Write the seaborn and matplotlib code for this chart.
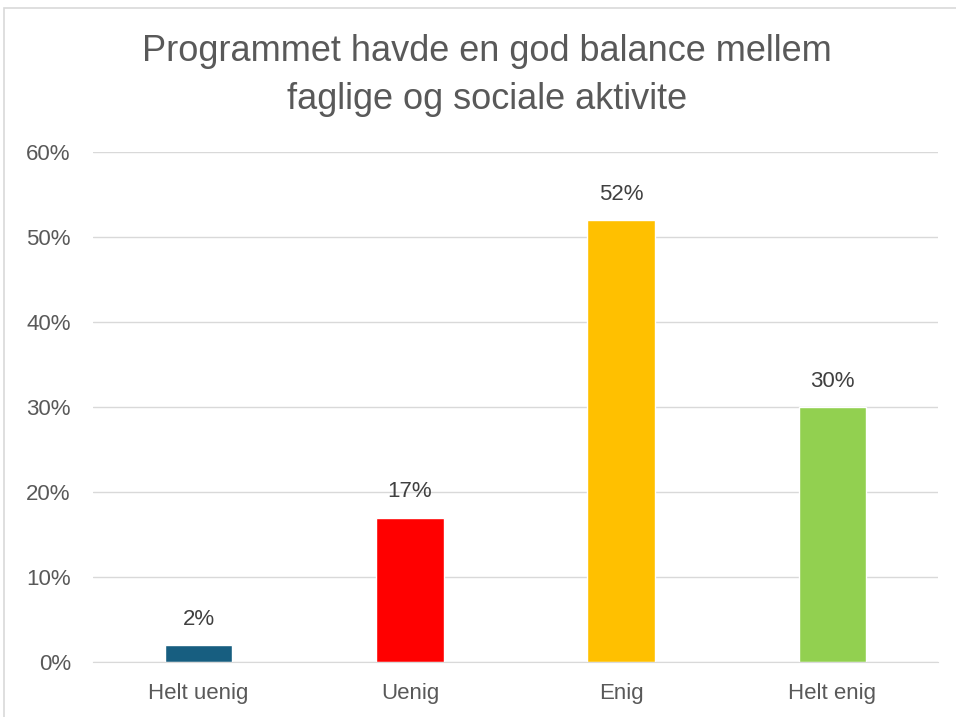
import matplotlib
matplotlib.use("Agg")
from matplotlib import pyplot as plt
from matplotlib.patches import Rectangle
import pandas as pd
import seaborn as sns

categories = ["Helt uenig", "Uenig", "Enig", "Helt enig"]
values = [2, 17, 52, 30]
colors = ["#175E80", "#FF0000", "#FFC000", "#92D050"]
yticks = [0, 10, 20, 30, 40, 50, 60]
title = "Programmet havde en god balance mellem\nfaglige og sociale aktivite"

sns.set_style("white")
plt.rcParams["font.family"] = ["Liberation Sans", "DejaVu Sans"]

df = pd.DataFrame({"cat": categories, "val": values})

fig = plt.figure(figsize=(9.56, 7.17), dpi=100)
ax = fig.add_axes([0.0973, 0.0767, 0.884, 0.7113])
sns.barplot(data=df, x="cat", y="val", hue="cat", palette=colors,
            width=0.32, legend=False, ax=ax, saturation=1)

ax.set_ylim(0, 60)
ax.set_yticks(yticks)
ax.set_yticklabels([f"{t}%" for t in yticks])
ax.set_xlim(-0.5, 3.5)
ax.set_xlabel("")
ax.set_ylabel("")
ax.grid(axis="y", color="#D9D9D9", linewidth=1)
ax.set_axisbelow(True)
for s in ["top", "right", "left"]:
    ax.spines[s].set_visible(False)
ax.spines["bottom"].set_color("#D9D9D9")
ax.tick_params(axis="both", length=0, labelsize=16, labelcolor="#595959")
ax.tick_params(axis="y", pad=16)
ax.tick_params(axis="x", pad=15)

for i, v in enumerate(values):
    ax.annotate(f"{v}%", (i, v), xytext=(0, 11), textcoords="offset points",
                ha="center", va="bottom", fontsize=16, color="#404040")

fig.text(0.509, 0.895, title, ha="center", va="center", fontsize=26,
         color="#595959", linespacing=1.5)

fig.patches.append(Rectangle((4 / 956, -0.1), 1.1, 1.1 - 8 / 717, transform=fig.transFigure,
                             fill=False, edgecolor="#D9D9D9", linewidth=1.2))

fig.savefig("out.png", dpi=100)
